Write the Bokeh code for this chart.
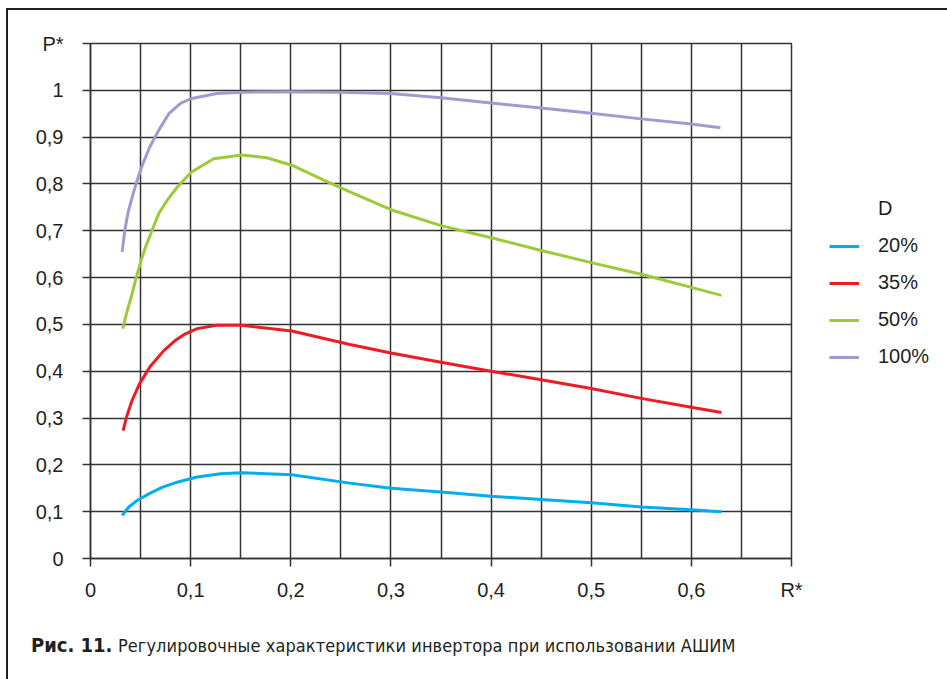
from bokeh.plotting import figure
from bokeh.layouts import column, row
from bokeh.models import (Range1d, FixedTicker, CustomJSTickFormatter, Legend, LegendItem, Div)
from bokeh.embed import file_html
from bokeh.resources import INLINE

# ---- data ----
r_20 = [0.0316, 0.0383, 0.0466, 0.0582, 0.0715, 0.0865, 0.1065, 0.1297, 0.151, 0.201,
        0.259, 0.3, 0.35, 0.4, 0.45, 0.5, 0.55, 0.6, 0.63]
p_20 = [0.092, 0.110, 0.124, 0.138, 0.152, 0.163, 0.174, 0.181, 0.183, 0.179,
        0.161, 0.150, 0.142, 0.133, 0.126, 0.119, 0.110, 0.104, 0.100]

r_35 = [0.0326, 0.0359, 0.0416, 0.0489, 0.0592, 0.0732, 0.0848, 0.0948, 0.1065, 0.126,
        0.151, 0.201, 0.259, 0.3, 0.35, 0.4, 0.45, 0.5, 0.55, 0.6, 0.63]
p_35 = [0.273, 0.302, 0.338, 0.373, 0.409, 0.444, 0.466, 0.480, 0.491, 0.498,
        0.498, 0.486, 0.457, 0.439, 0.419, 0.400, 0.382, 0.363, 0.342, 0.323, 0.312]

r_50 = [0.0323, 0.0359, 0.0406, 0.0449, 0.0506, 0.0549, 0.0615, 0.0682, 0.0765, 0.0865,
        0.1005, 0.123, 0.151, 0.176, 0.201, 0.233, 0.259, 0.3, 0.35, 0.4, 0.45, 0.5,
        0.55, 0.6, 0.63]
p_50 = [0.491, 0.523, 0.558, 0.594, 0.637, 0.665, 0.701, 0.737, 0.765, 0.793,
        0.825, 0.854, 0.862, 0.856, 0.840, 0.808, 0.783, 0.745, 0.711, 0.685, 0.658, 0.632,
        0.607, 0.579, 0.562]

r_100 = [0.0316, 0.0343, 0.0373, 0.0416, 0.0466, 0.0522, 0.0592, 0.0682, 0.0782, 0.0898,
         0.1, 0.126, 0.151, 0.2, 0.25, 0.3, 0.35, 0.4, 0.45, 0.5, 0.55, 0.6, 0.629]
p_100 = [0.655, 0.701, 0.737, 0.772, 0.808, 0.843, 0.879, 0.915, 0.950, 0.972,
         0.982, 0.993, 0.996, 0.997, 0.996, 0.993, 0.984, 0.973, 0.962, 0.951, 0.939, 0.928, 0.920]

series_labels = ["20%", "35%", "50%", "100%"]
series_x = [r_20, r_35, r_50, r_100]
series_y = [p_20, p_35, p_50, p_100]
series_colors = ["#00aeef", "#ed1c24", "#9dc93b", "#9f9bd1"]

x_ticks = [0.0, 0.1, 0.2, 0.3, 0.4, 0.5, 0.6, 0.7]
x_grid = [0.0, 0.05, 0.1, 0.15, 0.2, 0.25, 0.3, 0.35, 0.4, 0.45, 0.5, 0.55, 0.6, 0.65, 0.7]
y_ticks = [0.0, 0.1, 0.2, 0.3, 0.4, 0.5, 0.6, 0.7, 0.8, 0.9, 1.0, 1.1]

x_name = "R*"
y_name = "P*"
legend_title = "D"
caption_bold = "Рис. 11."
caption_text = "Регулировочные характеристики инвертора при использовании АШИМ"

INK = "#231f20"
GRID = "#333333"
FONT = "Liberation Sans"
H = 610

# ---- main chart ----
p = figure(width=800, height=H, output_backend="svg", toolbar_location=None,
           x_range=Range1d(0, 0.7), y_range=Range1d(0, 1.1),
           min_border_left=82, min_border_right=17, min_border_top=33, min_border_bottom=62)
p.background_fill_color = "white"
p.border_fill_color = "white"
p.outline_line_color = GRID
p.outline_line_width = 1.5

p.xgrid.ticker = FixedTicker(ticks=x_grid)
p.ygrid.ticker = FixedTicker(ticks=y_ticks)
for g in (p.xgrid, p.ygrid):
    g.grid_line_color = GRID
    g.grid_line_width = 1.5
    g.grid_line_alpha = 1.0

xa = p.xaxis[0]
ya = p.yaxis[0]
xa.ticker = FixedTicker(ticks=x_ticks, minor_ticks=[])
ya.ticker = FixedTicker(ticks=y_ticks, minor_ticks=[])
xa.formatter = CustomJSTickFormatter(args=dict(name=x_name), code="""
if (tick > 0.65) return name;
if (Math.abs(tick) < 1e-9) return '0';
return tick.toFixed(1).replace('.', ',');
""")
ya.formatter = CustomJSTickFormatter(args=dict(name=y_name), code="""
if (tick > 1.05) return name;
if (Math.abs(tick) < 1e-9) return '0';
if (Math.abs(tick - 1) < 1e-9) return '1';
return tick.toFixed(1).replace('.', ',');
""")
for a in (xa, ya):
    a.axis_line_color = GRID
    a.axis_line_width = 1.5
    a.major_tick_line_color = GRID
    a.major_tick_line_width = 1.5
    a.major_tick_in = 0
    a.major_tick_out = 8
    a.minor_tick_line_color = None
    a.major_label_text_font = FONT
    a.major_label_text_font_size = "20px"
    a.major_label_text_color = INK
xa.major_label_standoff = 12
ya.major_label_standoff = 19

for xs, ys, col in zip(series_x, series_y, series_colors):
    p.line(xs, ys, line_color=col, line_width=3)

# ---- legend panel (separate small figure so the legend is not clipped) ----
# its ranges lie away from the data, so only the legend is visible there
q = figure(width=137, height=H, output_backend="svg", toolbar_location=None,
           x_range=Range1d(10, 11), y_range=Range1d(10, 11),
           x_axis_type=None, y_axis_type=None,
           min_border_left=0, min_border_right=0, min_border_top=0, min_border_bottom=0)
q.outline_line_color = None
q.xgrid.visible = False
q.ygrid.visible = False
q.background_fill_color = "white"
q.border_fill_color = "white"

title_r = q.line([], [], line_alpha=0)
items = [LegendItem(label=legend_title, renderers=[title_r])]
for lab, xs, ys, col in zip(series_labels, series_x, series_y, series_colors):
    r = q.line(xs, ys, line_color=col, line_width=3)
    items.append(LegendItem(label=lab, renderers=[r]))

legend = Legend(items=items, location=(11, 180), orientation="vertical",
                glyph_width=30, glyph_height=20, label_height=20, label_standoff=19,
                spacing=14, padding=10, margin=0,
                label_text_font=FONT, label_text_font_size="20px", label_text_color=INK,
                border_line_alpha=0, background_fill_alpha=0)
q.add_layout(legend, "center")

caption = Div(width=937, height=58,
              text=('<div style="padding:8px 0 0 18px; white-space:nowrap; '
                    'font-family:\'Liberation Sans Narrow\',\'DejaVu Sans Condensed\',\'Liberation Sans\',sans-serif; '
                    'line-height:24px; color:%s;">'
                    '<b style="font-size:20px; margin-right:2px;">%s</b> '
                    '<span style="font-size:18px; letter-spacing:0.1px;">%s</span></div>') % (INK, caption_bold, caption_text))

layout = column(row(p, q, spacing=0), caption, spacing=0,
                styles={"margin-left": "6px", "margin-top": "8px",
                        "border-left": "2px solid #231f20", "border-top": "2px solid #231f20"})

open("out.html", "w").write(file_html(layout, INLINE))
